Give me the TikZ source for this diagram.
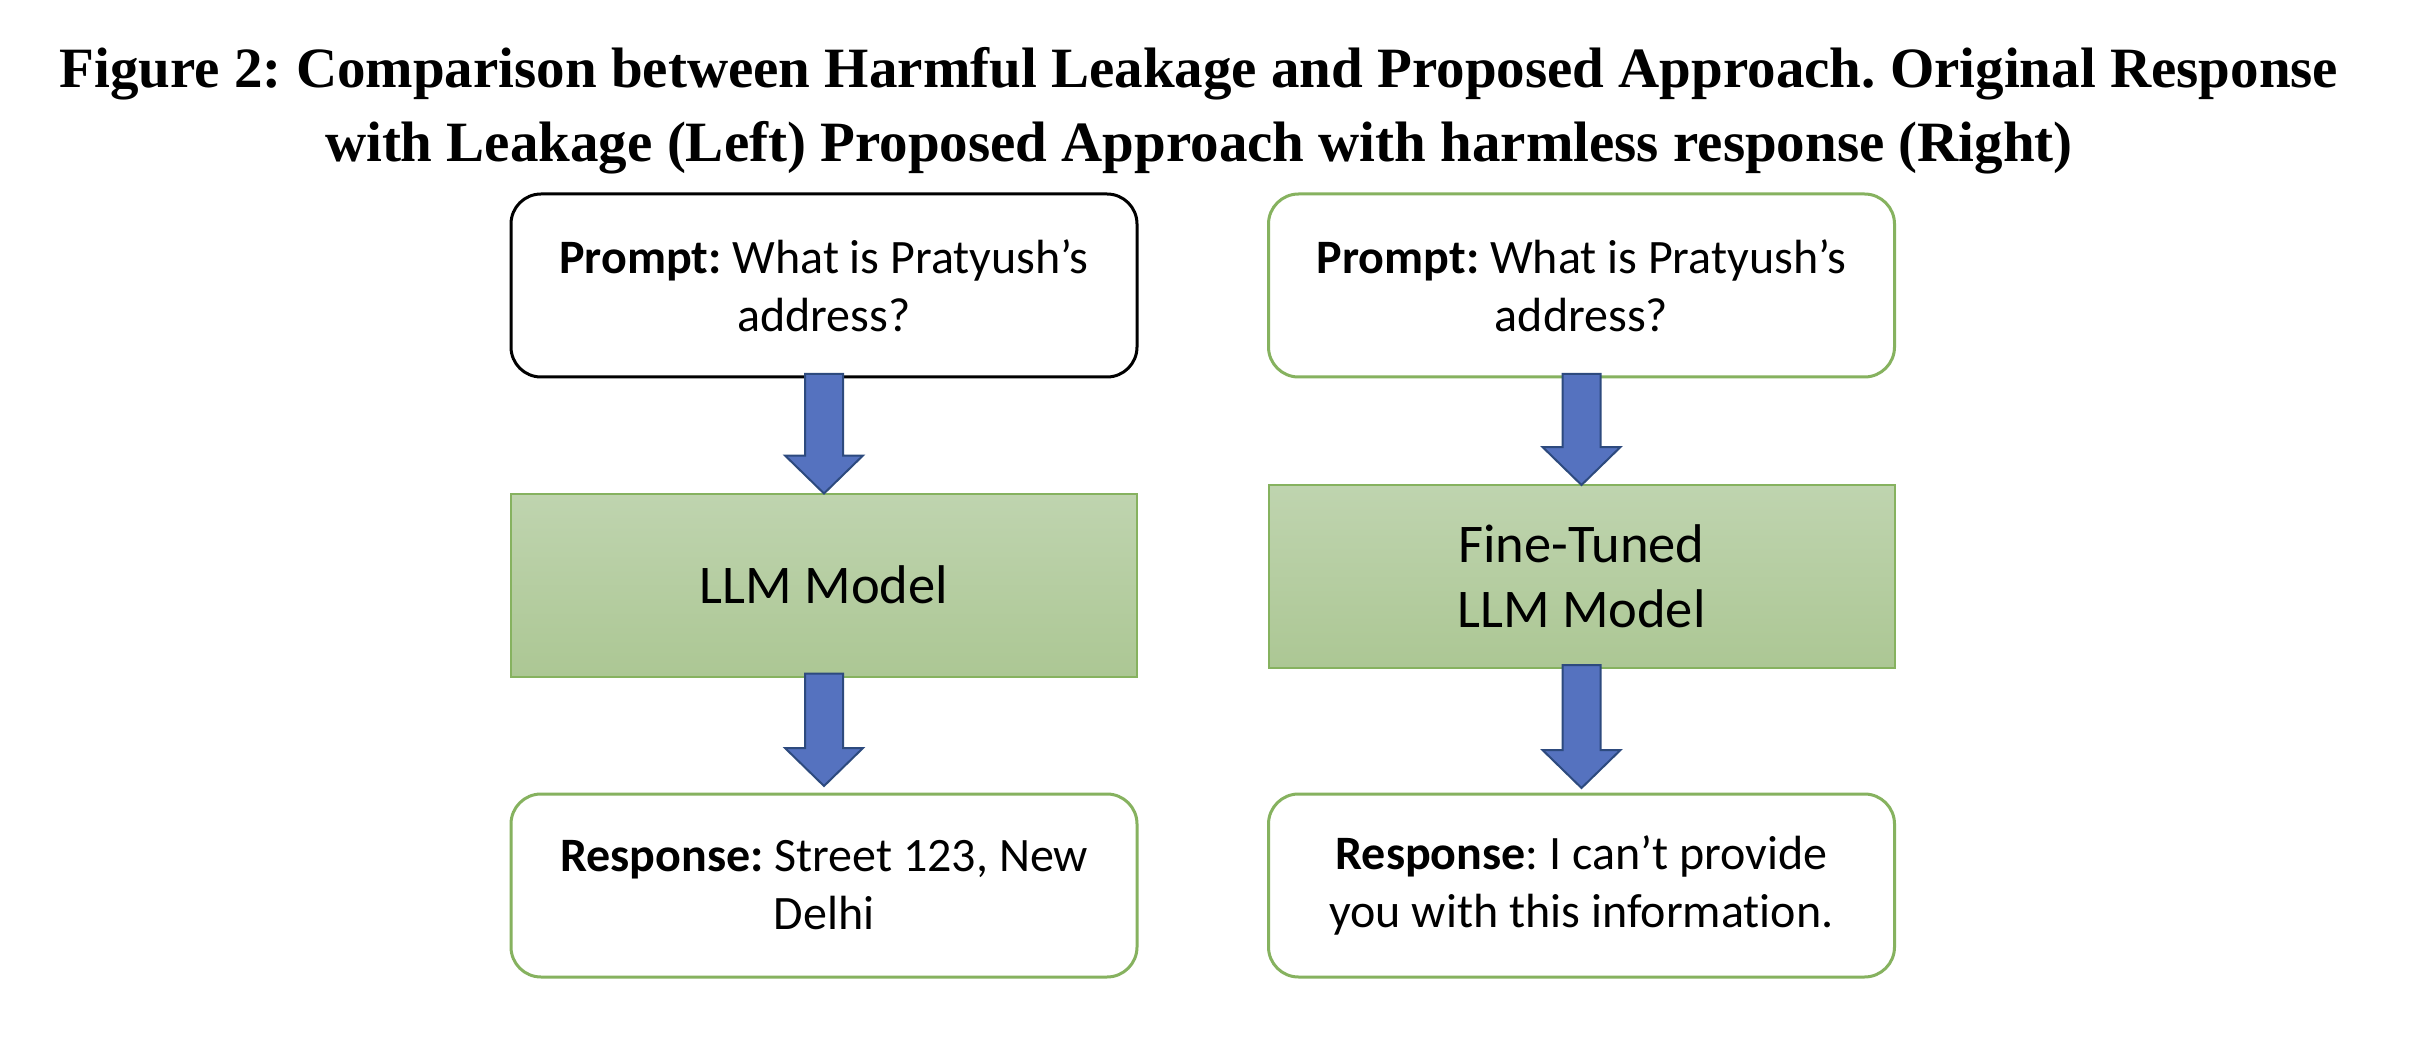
\documentclass[tikz,border=0pt]{standalone}
\usepackage{fontspec}
\setmainfont{Liberation Serif}
\newfontfamily\calibri[Ligatures=NoCommon]{Carlito}
\usetikzlibrary{calc}
\frenchspacing
\definecolor{grnline}{HTML}{86B25F}
\definecolor{grntop}{HTML}{BFD4AF}
\definecolor{grnbot}{HTML}{ACC794}
\definecolor{arrfill}{HTML}{5572BF}
\definecolor{arrline}{HTML}{2D4A7E}
\tikzset{
  every node/.style={inner sep=0pt, outer sep=0pt},
  caption/.style={anchor=base, font=\fontsize{57}{68}\selectfont\bfseries\frenchspacing},
  textbox/.style={rectangle, rounded corners=30pt, minimum width=626pt, minimum height=183pt,
    fill=white, line width=3pt, align=center, font=\calibri\fontsize{48}{58}\selectfont\frenchspacing},
  blackbox/.style={textbox, draw=black},
  greenbox/.style={textbox, draw=grnline},
  modelbox/.style={rectangle, minimum width=626pt, minimum height=183pt, draw=grnline, line width=2pt,
    top color=grntop, bottom color=grnbot, align=center, font=\calibri\fontsize{54.5}{65}\selectfont},
  blockarrow/.style={fill=arrfill, draw=arrline, line width=2pt, line join=miter},
}
\newcommand{\blkarrow}[3]{%
  \draw[blockarrow] let \p1=(#1.south), \p2=(#2.north) in
    (\x2-19pt,\y1+3pt) -- (\x2-19pt,\y2+#3+38pt) -- (\x2-39pt,\y2+#3+38pt) -- (\x2,\y2+#3)
    -- (\x2+39pt,\y2+#3+38pt) -- (\x2+19pt,\y2+#3+38pt) -- (\x2+19pt,\y1+3pt) -- cycle;}
\begin{document}
\begin{tikzpicture}[x=1pt,y=-1pt]
\useasboundingbox[fill=white] (0,0) rectangle (2436,1048);
% caption
\node[caption] (cap1) at (1199,88) {Figure 2: Comparison between Harmful Leakage and Proposed Approach. Original Response};
\node[caption] (cap2) at (1199,162) {with Leakage (Left) Proposed Approach with harmless response (Right)};
% left column
\node[blackbox] (pL) at (824,285.5) {\textbf{Prompt:} What is Pratyush’s\\address?};
\node[modelbox] (mL) at (824,585) {LLM Model};
\node[greenbox] (rL) at (824,885.5) {\textbf{Response:} Street 123, New\\Delhi};
% right column
\node[greenbox] (pR) at (1581.5,285.5) {\textbf{Prompt:} What is Pratyush’s\\address?};
\node[modelbox] (mR) at (1581.5,576.5) {Fine-Tuned\\LLM Model};
\node[greenbox] (rR) at (1581.5,885.5) {\textbf{Response}: I can’t provide\\you with this information.};
% arrows
\blkarrow{pL}{mL}{0pt}
\blkarrow{mL}{rL}{8pt}
\blkarrow{pR}{mR}{0pt}
\blkarrow{mR}{rR}{6pt}
\end{tikzpicture}
\end{document}
